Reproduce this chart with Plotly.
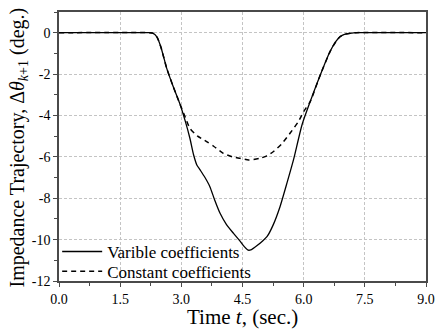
import plotly.graph_objects as go

t_var = [0, 2.2, 2.3, 2.4, 2.5, 2.64, 2.8, 2.97, 3.1, 3.21, 3.3, 3.38, 3.46, 3.58, 3.70, 3.82,
         3.95, 4.1, 4.28, 4.45, 4.55, 4.64, 4.72, 4.85, 5.0, 5.10, 5.25, 5.42, 5.6, 5.75,
         5.96, 6.16, 6.41, 6.65, 6.80, 6.90, 7.0, 7.14, 7.3, 9.0]
v_var = [0, 0, -0.02, -0.2, -0.7, -1.71, -2.6, -3.47, -4.3, -5.1, -5.9, -6.39, -6.63, -7.0, -7.44, -8.1,
         -8.73, -9.25, -9.70, -10.1, -10.35, -10.51, -10.48, -10.3, -10.05, -9.86, -9.3, -8.41, -7.2, -6.15,
         -4.45, -3.33, -2.03, -0.9, -0.4, -0.18, -0.08, -0.03, 0, 0]

t_const = [0, 2.2, 2.3, 2.4, 2.5, 2.64, 2.8, 2.97, 3.1, 3.21, 3.4, 3.62, 3.8, 4.03, 4.25, 4.44,
           4.65, 4.93, 5.1, 5.26, 5.45, 5.67, 5.87, 6.0, 6.16, 6.41, 6.65, 6.80, 6.90, 7.0, 7.14, 7.3, 9.0]
v_const = [0, 0, -0.02, -0.2, -0.7, -1.71, -2.6, -3.47, -4.1, -4.62, -5.0, -5.26, -5.5, -5.83, -6.0, -6.07,
           -6.15, -6.07, -5.95, -5.74, -5.4, -4.85, -4.3, -3.81, -3.33, -2.03, -0.9, -0.4, -0.18, -0.08, -0.03, 0, 0]

x_ticks = [0, 1.5, 3.0, 4.5, 6.0, 7.5, 9.0]
x_labels = ["0.0", "1.5", "3.0", "4.5", "6.0", "7.5", "9.0"]
y_ticks = [0, -2, -4, -6, -8, -10, -12]
y_labels = ["0", "-2", "-4", "-6", "-8", "-10", "-12"]

x_title = "Time <i>t</i>, (sec.)"
y_title = "Impedance Trajectory, Δ<i>θ</i><sub><i>k</i>+1</sub> (deg.)"

font = "Liberation Serif"

fig = go.Figure()
fig.add_trace(go.Scatter(x=t_var, y=v_var, mode="lines", name="Varible coefficients", legend="legend",
                         line=dict(color="black", width=1.3, shape="spline", smoothing=0.6)))
fig.add_trace(go.Scatter(x=t_const, y=v_const, mode="lines", name="Constant coefficients", legend="legend2",
                         line=dict(color="black", width=1.5, dash="5px,4px", shape="spline", smoothing=0.6)))

axis_common = dict(showline=True, linecolor="#4a4a4a", linewidth=1.6, mirror=True,
                   showgrid=True, gridcolor="#c4c4c4", griddash="3px,2px", gridwidth=0.8,
                   zeroline=False, ticks="outside", ticklen=4, tickcolor="#4a4a4a", tickwidth=1,
                   automargin=False,
                   tickfont=dict(family=font, size=14, color="black"))

legend_common = dict(xanchor="left", yanchor="middle", bgcolor="rgba(0,0,0,0)",
                     font=dict(family=font, size=17, color="black"), itemwidth=40)

fig.update_layout(
    width=438, height=331,
    font=dict(family=font, color="black"),
    margin=dict(l=59, r=12, t=12, b=50),
    plot_bgcolor="white", paper_bgcolor="white",
    xaxis=dict(range=[0, 9], tickvals=x_ticks, ticktext=x_labels,
               minor=dict(dtick=0.75, ticks="outside", ticklen=3, tickcolor="#4a4a4a", showgrid=False),
               **axis_common),
    yaxis=dict(range=[-12, 1], tickvals=y_ticks, ticktext=y_labels,
               minor=dict(dtick=1, ticks="outside", ticklen=3, tickcolor="#4a4a4a", showgrid=False),
               **axis_common),
    legend=dict(x=-0.005, y=0.108, **legend_common),
    legend2=dict(x=-0.005, y=0.035, **legend_common),
    showlegend=True,
    annotations=[
        dict(text=x_title, xref="paper", yref="paper", x=0.5, y=0, xanchor="center", yanchor="top",
             yshift=-22, showarrow=False, font=dict(family=font, size=21, color="black")),
        dict(text=y_title, xref="paper", yref="paper", x=0, y=0.5, xanchor="center", yanchor="middle",
             xshift=-41, yshift=-1, textangle=-90, showarrow=False,
             font=dict(family=font, size=20, color="black")),
    ],
)

fig.write_html("out.html")
